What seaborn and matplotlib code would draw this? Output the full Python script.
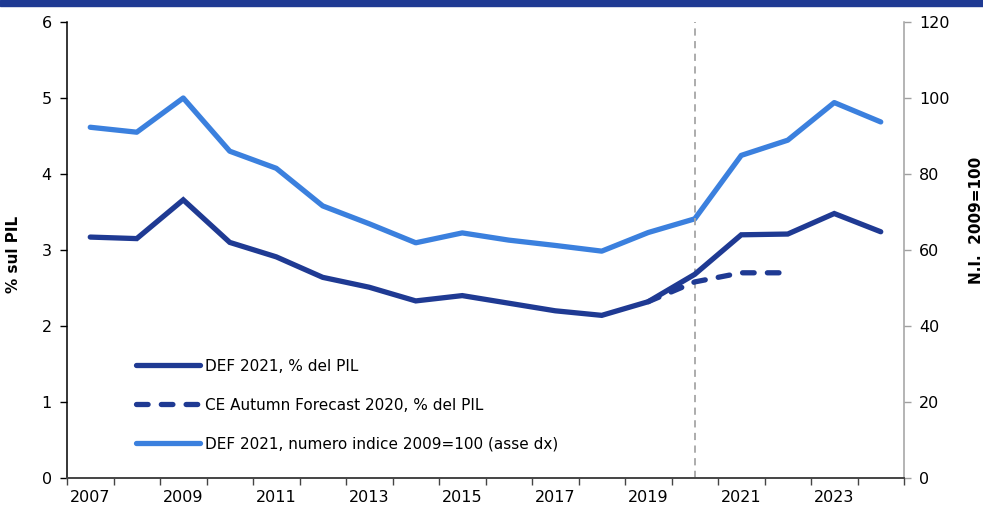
import matplotlib
matplotlib.use("Agg")
import matplotlib.pyplot as plt
from matplotlib.patches import Rectangle
from matplotlib.ticker import FixedLocator
import seaborn as sns
import pandas as pd

years = list(range(2007, 2025))
def_pil = [3.17, 3.15, 3.66, 3.10, 2.91, 2.64, 2.51, 2.33, 2.40, 2.30, 2.20, 2.14, 2.32, 2.68, 3.20, 3.21, 3.48, 3.24]
ce_years = [2019, 2020, 2021, 2022]
ce_pil = [2.32, 2.58, 2.70, 2.70]
def_index = [92.3, 91.0, 100.0, 86.0, 81.5, 71.6, 66.9, 61.9, 64.5, 62.6, 61.2, 59.7, 64.6, 68.2, 84.9, 88.9, 98.8, 93.7]

label_def = "DEF 2021, % del PIL"
label_ce = "CE Autumn Forecast 2020, % del PIL"
label_idx = "DEF 2021, numero indice 2009=100 (asse dx)"
ylabel_left = "% sul PIL"
ylabel_right = "N.I.  2009=100"

dark = "#1f3a93"
light = "#3b80de"

sns.set_theme(style="white")
plt.rcParams["font.family"] = ["DejaVu Sans"]
plt.rcParams["text.color"] = "#000000"
plt.rcParams["axes.labelcolor"] = "#000000"
plt.rcParams["xtick.color"] = "#000000"
plt.rcParams["ytick.color"] = "#000000"

df_main = pd.DataFrame({"x": [y - 2007 for y in years], "pil": def_pil, "idx": def_index})
df_ce = pd.DataFrame({"x": [y - 2007 for y in ce_years], "pil": ce_pil})

fig = plt.figure(figsize=(9.83, 5.11), dpi=100)
ax = fig.add_axes([67 / 983, 1 - 478 / 511, (904 - 67) / 983, (478 - 22) / 511])
ax2 = ax.twinx()

lw = 3.8
sns.lineplot(data=df_main, x="x", y="pil", ax=ax, color=dark, lw=lw,
             solid_capstyle="round", solid_joinstyle="miter", label=label_def, legend=False, zorder=3)
sns.lineplot(data=df_ce, x="x", y="pil", ax=ax, color=dark, lw=lw,
             dashes=False, legend=False, zorder=3)
ce_line = ax.get_lines()[-1]
ce_line.set_dashes([2.2, 2.5])
ce_line.set_dash_capstyle("round")
ce_line.set_label(label_ce)
sns.lineplot(data=df_main, x="x", y="idx", ax=ax2, color=light, lw=lw,
             solid_capstyle="round", label=label_idx, legend=False, zorder=2)

ax.axvline(2020 - 2007, color="#a6a6a6", lw=1.3, ls=(0, (4, 3)), zorder=1)

ax.set_xlim(-0.5, len(years) - 0.5)
ax.set_ylim(0, 6)
ax2.set_ylim(0, 120)
ax.set_yticks(range(0, 7))
ax2.set_yticks(range(0, 121, 20))

ax.set_xticks(range(0, len(years), 2))
ax.set_xticklabels([str(y) for y in years[::2]])
ax.xaxis.set_minor_locator(FixedLocator([i - 0.5 for i in range(len(years) + 1)]))
ax.tick_params(axis="x", which="major", length=0, labelsize=11.5, pad=9, labelcolor="#000000")
ax.tick_params(axis="x", which="minor", length=5, width=1, direction="out", color="#444444", bottom=True)
ax.tick_params(axis="y", length=5, width=1, direction="out", left=True, labelsize=11.5,
               color="#000000", labelcolor="#000000", pad=6)
ax2.tick_params(axis="y", length=5, width=1, direction="out", right=True, labelsize=11.5,
                color="#a0a0a0", labelcolor="#000000", pad=6)

for s in ["top", "right"]:
    ax.spines[s].set_visible(False)
ax.spines["left"].set_color("#000000")
ax.spines["bottom"].set_color("#444444")
ax.spines["left"].set_linewidth(1.1)
ax.spines["bottom"].set_linewidth(1.4)
for s in ["top", "left", "bottom"]:
    ax2.spines[s].set_visible(False)
ax2.spines["right"].set_color("#a0a0a0")
ax2.spines["right"].set_linewidth(1.1)

ax.set_xlabel("")
ax.set_ylabel(ylabel_left, fontsize=11, fontweight="bold", color="#000000")
ax.yaxis.set_label_coords(-0.055, 0.49)
ax2.set_ylabel(ylabel_right, fontsize=11, fontweight="bold", color="#000000")
ax2.yaxis.set_label_coords(1.078, 0.566)
ax2.yaxis.label.set_rotation(90)

ax.set_zorder(ax2.get_zorder() + 1)
ax.patch.set_visible(False)

h1 = ax.get_lines()[0]
handles = [h1, ce_line, ax2.get_lines()[0]]
labels = [label_def, label_ce, label_idx]
leg = ax.legend(handles, labels, loc="upper left", bbox_to_anchor=(0.0824, 0.262),
                frameon=False, fontsize=11, handlelength=4.2, handletextpad=0.3,
                labelspacing=1.58, borderpad=0, borderaxespad=0)
for t in leg.get_texts():
    t.set_color("#000000")

fig.patches.append(Rectangle((0, 1 - 6.5 / 511), 1, 6.5 / 511, transform=fig.transFigure,
                             color=dark, zorder=0))

fig.savefig("out.png", dpi=100)
